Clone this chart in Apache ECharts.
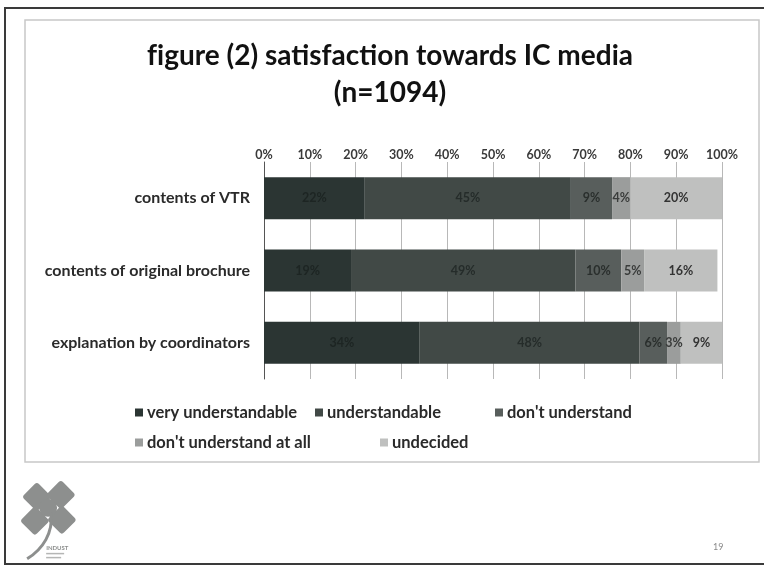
<!DOCTYPE html>
<html>
<head>
<meta charset="utf-8">
<script src="https://cdn.jsdelivr.net/npm/echarts@6/dist/echarts.min.js"></script>
<style>
  html, body { margin: 0; padding: 0; background: #ffffff; }
  #chart { width: 764px; height: 574px; }
</style>
</head>
<body>
<div id="chart"></div>
<script>
// Survey items (top to bottom) and answer shares in percent
const categories = ['contents of VTR', 'contents of original brochure', 'explanation by coordinators'];
const seriesNames = ['very understandable', 'understandable', "don't understand", "don't understand at all", 'undecided'];
const veryUnderstandable = [22, 19, 34];
const understandable = [45, 49, 48];
const dontUnderstand = [9, 10, 6];
const dontUnderstandAtAll = [4, 5, 3];
const undecided = [20, 16, 9];
const tickLabels = ['0%', '10%', '20%', '30%', '40%', '50%', '60%', '70%', '80%', '90%', '100%'];

const seriesValues = [veryUnderstandable, understandable, dontUnderstand, dontUnderstandAtAll, undecided];
const colors = ['#2b3533', '#414946', '#585e5c', '#9b9d9c', '#bfc0bf'];
const labelColors = ['#1d2523', '#252c2a', '#2a2f2d', '#3a3c3b', '#333333'];
const FONT = 'Lato, "Open Sans", sans-serif';

// Legend is laid out in fixed columns on two rows
const legendSlots = [[130, 399], [310, 399], [490, 399], [130, 429], [375, 429]];

const chart = echarts.init(document.getElementById('chart'), null, { renderer: 'canvas' });

const titleStyle = { fontFamily: FONT, fontSize: 28, fontWeight: 'bold', color: '#111111', lineHeight: 37 };

const option = {
  animation: false,
  backgroundColor: '#ffffff',
  title: {
    // "f" is its own rich-text run so it is not joined with the following "i"
    text: '{t|f}{t|igure (2) satisfaction towards IC media}\n{t|(n=1094)}',
    left: 385,
    textAlign: 'center',
    top: 32,
    textStyle: {
      fontFamily: FONT, fontSize: 28, fontWeight: 'bold', color: '#111111', lineHeight: 37,
      rich: { t: titleStyle }
    }
  },
  legend: seriesNames.map((name, i) => ({
    data: [name],
    left: legendSlots[i][0],
    top: legendSlots[i][1],
    icon: 'rect',
    itemWidth: 8,
    itemHeight: 8,
    itemGap: 4,
    selectedMode: false,
    textStyle: { fontFamily: FONT, fontSize: 16.5, fontWeight: 'bold', color: '#2a2a2a', padding: [0, 0, 0, -1] }
  })),
  grid: { left: 264, right: 42, top: 162, height: 217 },
  xAxis: {
    type: 'value',
    position: 'top',
    min: 0,
    max: 100,
    interval: 10,
    axisLine: { show: false },
    axisTick: { show: false },
    splitLine: { show: true, lineStyle: { color: '#b8b8b8', width: 1 } },
    axisLabel: {
      margin: 1,
      fontFamily: FONT,
      fontSize: 12.5,
      fontWeight: 'bold',
      color: '#3a3a3a',
      formatter: (v) => tickLabels[Math.round(v / 10)]
    }
  },
  yAxis: {
    type: 'category',
    inverse: true,
    data: categories,
    axisLine: { show: true, lineStyle: { color: '#555555', width: 1 } },
    axisTick: { show: false },
    axisLabel: {
      margin: 14,
      fontFamily: FONT,
      fontSize: 16,
      fontWeight: 'bold',
      color: '#2a2a2a'
    }
  },
  series: seriesNames.map((name, i) => ({
    name: name,
    type: 'bar',
    stack: 'share',
    barWidth: 42,
    itemStyle: { color: colors[i] },
    label: {
      show: true,
      position: 'inside',
      formatter: '{c}%',
      fontFamily: FONT,
      fontSize: 12.5,
      fontWeight: 'bold',
      color: labelColors[i]
    },
    data: seriesValues[i]
  })),
  graphic: [
    // slide frame
    { type: 'rect', shape: { x: 5, y: 8, width: 770, height: 556 }, style: { fill: 'none', stroke: '#3a3a3a', lineWidth: 2 }, silent: true },
    // chart area frame
    { type: 'rect', shape: { x: 25, y: 20, width: 734, height: 442 }, style: { fill: 'none', stroke: '#c8c8c8', lineWidth: 1.5 }, silent: true },
    // clover emblem
    {
      type: 'group', left: 20, top: 480, silent: true,
      children: [
        { type: 'rect', shape: { x: 7, y: 6, width: 21, height: 21, r: 3 }, rotation: Math.PI / 4, originX: 17, originY: 16, style: { fill: '#8d8f8e' } },
        { type: 'rect', shape: { x: 31, y: 4, width: 21, height: 21, r: 3 }, rotation: Math.PI / 4, originX: 41, originY: 14, style: { fill: '#8d8f8e' } },
        { type: 'rect', shape: { x: 5, y: 30, width: 21, height: 21, r: 3 }, rotation: Math.PI / 4, originX: 15, originY: 40, style: { fill: '#8d8f8e' } },
        { type: 'rect', shape: { x: 32, y: 29, width: 21, height: 21, r: 3 }, rotation: Math.PI / 4, originX: 42, originY: 39, style: { fill: '#8d8f8e' } },
        { type: 'circle', shape: { cx: 29, cy: 27, r: 9 }, style: { fill: '#8d8f8e' } },
        { type: 'bezierCurve', shape: { x1: 32, y1: 32, cpx1: 34, cpy1: 52, cpx2: 24, cpy2: 68, x2: 8, y2: 78 }, style: { stroke: '#8d8f8e', lineWidth: 3, fill: 'none' } },
        { type: 'text', style: { x: 27, y: 64, text: 'INDUST', fontSize: 6, fontWeight: 'bold', fill: '#8d8f8e', fontFamily: FONT } },
        { type: 'rect', shape: { x: 27, y: 72, width: 18, height: 1.5 }, style: { fill: '#b5b6b5' } },
        { type: 'rect', shape: { x: 27, y: 76, width: 15, height: 1.5 }, style: { fill: '#b5b6b5' } }
      ]
    },
    // page number
    { type: 'text', left: 713, top: 543, silent: true, style: { text: '19', fontSize: 9, fill: '#8a8a8a', fontFamily: FONT } }
  ]
};

chart.setOption(option);
</script>
</body>
</html>
